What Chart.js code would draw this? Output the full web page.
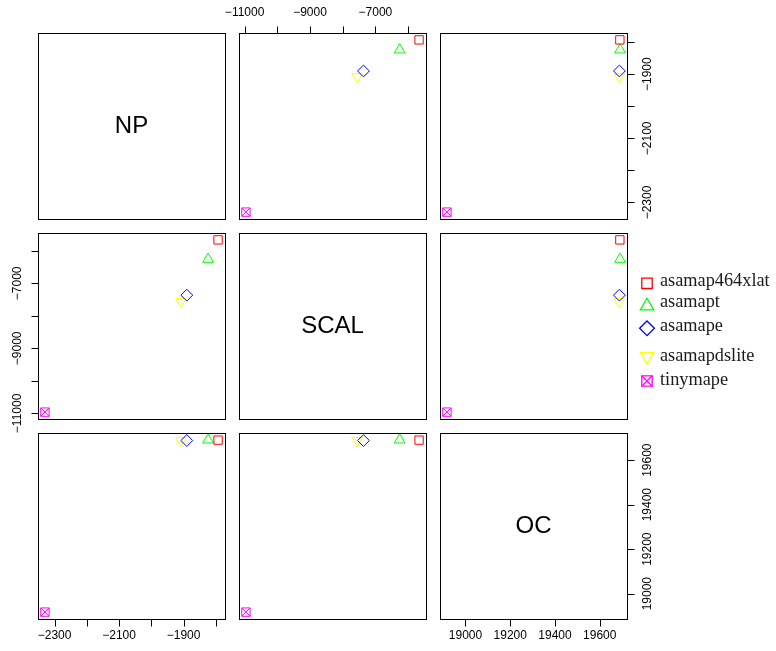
<!DOCTYPE html>
<html>
<head>
<meta charset="utf-8">
<script src="https://cdn.jsdelivr.net/npm/chart.js@4/dist/chart.umd.min.js"></script>
<style>
  html, body { margin: 0; padding: 0; background: #ffffff; }
  #matrix { position: relative; width: 776px; height: 651px; }
  #matrix canvas { position: absolute; left: 0; top: 0; }
</style>
</head>
<body>
<div id="matrix"></div>
<script>
// Variables of the scatterplot matrix and one value per mapping technique.
const variables = ['NP', 'SCAL', 'OC'];
const series = ['asamap464xlat', 'asamapt', 'asamape', 'asamapdslite', 'tinymape'];
const npValues   = [-1793, -1824, -1890, -1908, -2330];
const scalValues = [-5665, -6260, -7365, -7558, -10960];
const ocValues   = [19690, 19691, 19688, 19688, 18917];

// Axis ticks (every tick) and their printed labels ('' = tick without label).
const npTicks = [-2300, -2200, -2100, -2000, -1900, -1800];
const npTickLabels = ['\u22122300', '', '\u22122100', '', '\u22121900', ''];
const scalTicks = [-11000, -10000, -9000, -8000, -7000, -6000];
const scalTickLabels = ['\u221211000', '', '\u22129000', '', '\u22127000', ''];
const ocTicks = [19000, 19200, 19400, 19600];
const ocTickLabels = ['19000', '19200', '19400', '19600'];

const valuesByVar = [npValues, scalValues, ocValues];
const ticksByVar = [npTicks, scalTicks, ocTicks];
const tickLabelsByVar = [npTickLabels, scalTickLabels, ocTickLabels];

// Marker look for each series (open symbols, thin outline).
const markers = [
  { pointStyle: 'rect',     radius: 5.9, rotation: 0,   color: '#FF0000' },
  { pointStyle: 'triangle', radius: 6.2, rotation: 0,   color: '#00FF00' },
  { pointStyle: 'rectRot',  radius: 5.9, rotation: 0,   color: '#0000FF' },
  { pointStyle: 'triangle', radius: 6.2, rotation: 180, color: '#FFFF00' },
  { pointStyle: 'rect',     radius: 5.9, rotation: 0,   color: '#FF00FF', boxedCross: true }
];
const LEGEND_SYMBOL_SCALE = 1.25;

// Panel grid geometry.
const W = 776, H = 651;
const colLeft = [38, 239, 440];
const rowTop = [33, 233, 433];
const panelW = 187, panelH = 186;
const TICK_LEN = 7;
const tickFont = '12px "Liberation Sans", Arial, sans-serif';

function paddedRange(vals) {
  const lo = Math.min(...vals), hi = Math.max(...vals), d = hi - lo;
  return [lo - 0.04 * d, hi + 0.04 * d];
}

function drawTickLabel(ctx, text, x, y, rotated) {
  ctx.save();
  ctx.translate(x, y);
  if (rotated) ctx.rotate(-Math.PI / 2);
  ctx.textAlign = 'center';
  ctx.textBaseline = 'middle';
  ctx.fillText(text, 0, 0);
  ctx.restore();
}

function drawAxis(chart, side, v) {
  const ctx = chart.ctx, a = chart.chartArea;
  const ticks = ticksByVar[v], labels = tickLabelsByVar[v];
  const horizontal = side === 'top' || side === 'bottom';
  const scale = horizontal ? chart.scales.x : chart.scales.y;
  const px = ticks.map(t => scale.getPixelForValue(t));
  ctx.save();
  ctx.strokeStyle = '#000';
  ctx.fillStyle = '#000';
  ctx.lineWidth = 1;
  ctx.font = tickFont;
  ctx.beginPath();
  if (horizontal) {
    const y0 = (side === 'top' ? a.top : a.bottom) + 0.5;
    const dir = side === 'top' ? -1 : 1;
    ctx.moveTo(px[0], y0);
    ctx.lineTo(px[px.length - 1], y0);
    px.forEach(p => { const xx = Math.round(p) + 0.5; ctx.moveTo(xx, y0); ctx.lineTo(xx, y0 + dir * TICK_LEN); });
    ctx.stroke();
    const ly = side === 'top' ? a.top - 20 : a.bottom + 17;
    px.forEach((p, k) => { if (labels[k]) drawTickLabel(ctx, labels[k], p, ly, false); });
  } else {
    const x0 = (side === 'left' ? a.left : a.right) + 0.5;
    const dir = side === 'left' ? -1 : 1;
    ctx.moveTo(x0, px[0]);
    ctx.lineTo(x0, px[px.length - 1]);
    px.forEach(p => { const yy = Math.round(p) + 0.5; ctx.moveTo(x0, yy); ctx.lineTo(x0 + dir * TICK_LEN, yy); });
    ctx.stroke();
    const lx = side === 'left' ? a.left - 20 : a.right + 21;
    px.forEach((p, k) => { if (labels[k]) drawTickLabel(ctx, labels[k], lx, p, true); });
  }
  ctx.restore();
}

function drawLegend(ctx) {
  const symX = 647, textX = 660;
  const symY = [283.3, 306, 328.3, 356.5, 381];
  const textBaseY = [286, 307, 331, 361, 385];
  ctx.save();
  ctx.font = '18.3px "Liberation Serif", "Times New Roman", serif';
  ctx.textAlign = 'left';
  ctx.textBaseline = 'alphabetic';
  series.forEach((name, k) => {
    const m = markers[k];
    ctx.strokeStyle = m.color;
    ctx.fillStyle = 'rgba(0,0,0,0)';
    ctx.lineWidth = 1.3;
    const opts = { pointStyle: m.pointStyle, rotation: m.rotation, radius: m.radius * LEGEND_SYMBOL_SCALE, borderWidth: 1.3 };
    Chart.helpers.drawPoint(ctx, opts, symX, symY[k]);
    if (m.boxedCross) {
      Chart.helpers.drawPoint(ctx, Object.assign({}, opts, { pointStyle: 'crossRot' }), symX, symY[k]);
    }
    ctx.fillStyle = '#1a1a1a';
    ctx.fillText(name, textX, textBaseY[k]);
  });
  ctx.restore();
}

const n = variables.length;
const host = document.getElementById('matrix');

for (let i = 0; i < n; i++) {
  for (let j = 0; j < n; j++) {
    const canvas = document.createElement('canvas');
    canvas.width = W; canvas.height = H;
    canvas.style.width = W + 'px'; canvas.style.height = H + 'px';
    host.appendChild(canvas);

    const xr = paddedRange(valuesByVar[j]);
    const yr = paddedRange(valuesByVar[i]);

    const datasets = [];
    if (i !== j) {
      series.forEach((name, k) => {
        const m = markers[k];
        const pts = [{ x: valuesByVar[j][k], y: valuesByVar[i][k] }];
        const base = {
          label: name, data: pts, showLine: false, clip: false,
          pointRadius: m.radius, pointRotation: m.rotation,
          pointBorderColor: m.color, pointBackgroundColor: 'rgba(0,0,0,0)',
          pointBorderWidth: 1, pointHoverRadius: m.radius
        };
        datasets.push(Object.assign({}, base, { pointStyle: m.pointStyle }));
        if (m.boxedCross) datasets.push(Object.assign({}, base, { pointStyle: 'crossRot' }));
      });
    }

    const cellPlugin = {
      id: 'cell' + i + j,
      afterDraw(chart) {
        const ctx = chart.ctx, a = chart.chartArea;
        ctx.save();
        ctx.strokeStyle = '#000';
        ctx.lineWidth = 1;
        ctx.strokeRect(a.left + 0.5, a.top + 0.5, a.right - a.left, a.bottom - a.top);
        if (i === j) {
          ctx.fillStyle = '#000';
          ctx.font = '24px "Liberation Sans", Arial, sans-serif';
          ctx.textAlign = 'center';
          ctx.textBaseline = 'middle';
          ctx.fillText(variables[i], (a.left + a.right) / 2, (a.top + a.bottom) / 2);
        }
        ctx.restore();
        if (i === 0 && j % 2 === 1) drawAxis(chart, 'top', j);
        if (i === n - 1 && j % 2 === 0) drawAxis(chart, 'bottom', j);
        if (j === 0 && i % 2 === 1) drawAxis(chart, 'left', i);
        if (j === n - 1 && i % 2 === 0) drawAxis(chart, 'right', i);
        if (i === n - 1 && j === n - 1) drawLegend(ctx);
      }
    };

    new Chart(canvas, {
      type: 'scatter',
      data: { datasets },
      options: {
        responsive: false,
        animation: false,
        devicePixelRatio: 1,
        events: [],
        layout: {
          autoPadding: false,
          padding: {
            left: colLeft[j], right: W - colLeft[j] - panelW,
            top: rowTop[i], bottom: H - rowTop[i] - panelH
          }
        },
        plugins: { legend: { display: false }, tooltip: { enabled: false } },
        scales: {
          x: { type: 'linear', display: false, min: xr[0], max: xr[1] },
          y: { type: 'linear', display: false, min: yr[0], max: yr[1] }
        }
      },
      plugins: [cellPlugin]
    });
  }
}
</script>
</body>
</html>
